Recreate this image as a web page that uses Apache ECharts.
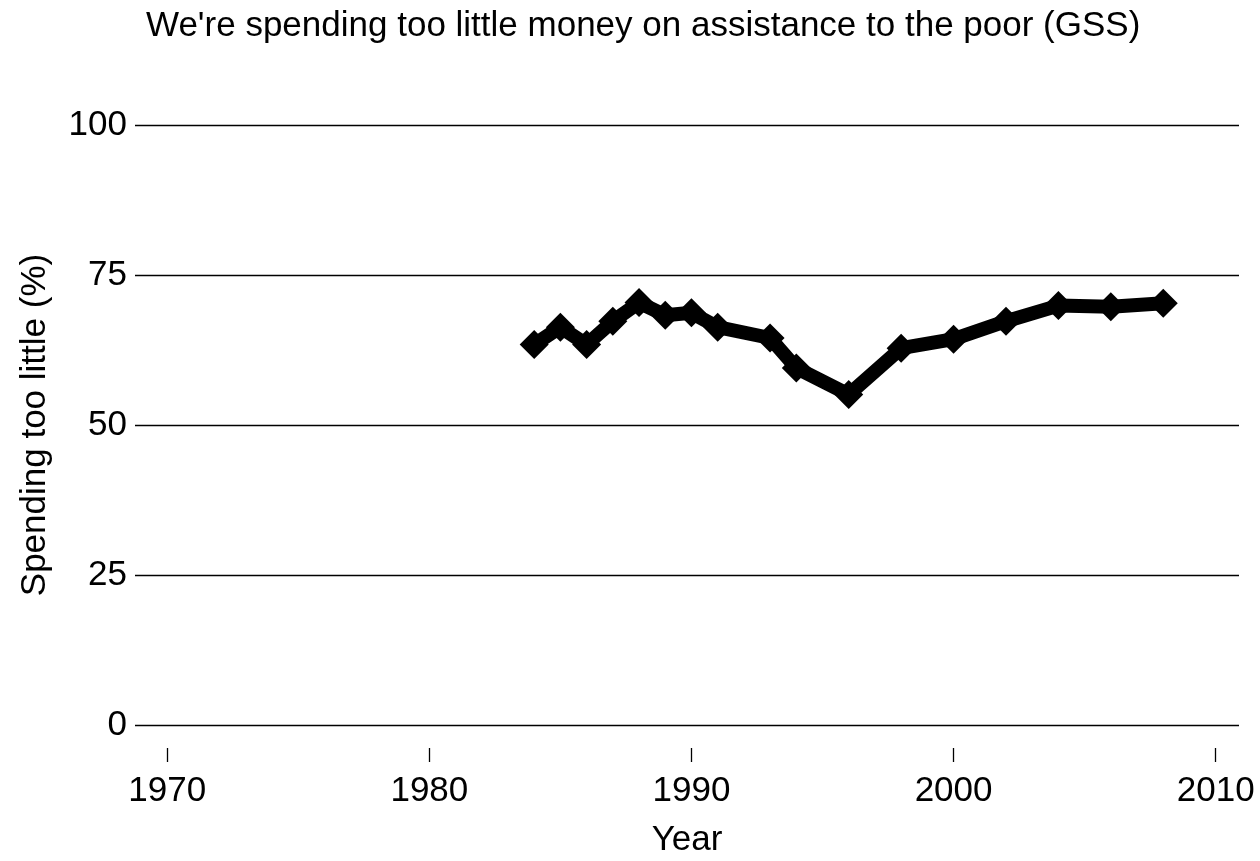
<!DOCTYPE html>
<html>
<head>
<meta charset="utf-8">
<script src="https://cdn.jsdelivr.net/npm/echarts@6/dist/echarts.min.js"></script>
<style>
html,body{margin:0;padding:0;background:#fff;}
#chart{width:1260px;height:861px;}
</style>
</head>
<body>
<div id="chart"></div>
<script>
var years = [1984, 1985, 1986, 1987, 1988, 1989, 1990, 1991, 1993, 1994, 1996, 1998, 2000, 2002, 2004, 2006, 2008];
var tooLittle = [63.4, 66.3, 63.4, 67.3, 70.4, 68.3, 68.7, 66.3, 64.5, 59.5, 55.1, 62.8, 64.3, 67.3, 69.9, 69.7, 70.3];
var xTicks = [1970, 1980, 1990, 2000, 2010];
var yTicks = [0, 25, 50, 75, 100];

var FONT = '"Liberation Sans", Arial, sans-serif';
var chart = echarts.init(document.getElementById('chart'));
var seriesData = years.map(function (y, i) { return [y, tooLittle[i]]; });
var X_MIN = 1968.77, X_MAX = 2010.89;

chart.setOption({
  animation: false,
  backgroundColor: '#fff',
  title: {
    text: "We're spending too little money on assistance to the poor (GSS)",
    left: 141,
    top: 4,
    textStyle: { fontFamily: FONT, fontSize: 35, fontWeight: 'normal', color: '#000' }
  },
  grid: [
    { left: 135, right: 21, top: 125, height: 600 },
    { left: 135, right: 21, top: 747, height: 1 }
  ],
  xAxis: [{
    type: 'value',
    gridIndex: 0,
    min: X_MIN,
    max: X_MAX,
    axisLine: { show: false },
    axisTick: { show: false },
    axisLabel: { show: false },
    splitLine: { show: false }
  }, {
    type: 'value',
    gridIndex: 1,
    min: X_MIN,
    max: X_MAX,
    name: 'Year',
    nameLocation: 'middle',
    nameGap: 75,
    nameTextStyle: { fontFamily: FONT, fontSize: 35, color: '#000' },
    axisLine: { show: false },
    axisTick: { show: true, inside: false, length: 14, customValues: xTicks, lineStyle: { color: '#000', width: 1.3 } },
    axisLabel: {
      customValues: xTicks, margin: 26, fontFamily: FONT, fontSize: 35, color: '#000',
      formatter: function (v) { return String(v); }
    },
    splitLine: { show: false }
  }],
  yAxis: [{
    type: 'value',
    gridIndex: 0,
    min: 0,
    max: 100,
    interval: 25,
    name: 'Spending too little (%)',
    nameLocation: 'middle',
    nameGap: 82,
    nameTextStyle: { fontFamily: FONT, fontSize: 35, color: '#000' },
    axisLine: { show: false },
    axisTick: { show: false },
    axisLabel: {
      margin: 8, fontFamily: FONT, fontSize: 35, color: '#000',
      formatter: function (v) { return yTicks.indexOf(v) >= 0 ? String(v) : ''; }
    },
    splitLine: { show: true, lineStyle: { color: '#000', width: 1.3 } }
  }, {
    type: 'value',
    gridIndex: 1,
    show: false
  }],
  series: [{
    type: 'line',
    xAxisIndex: 0,
    yAxisIndex: 0,
    data: seriesData,
    symbol: 'diamond',
    symbolSize: [29, 29],
    showAllSymbol: true,
    lineStyle: { color: '#000', width: 14, join: 'round' },
    itemStyle: { color: '#000' },
    clip: false
  }]
});
</script>
</body>
</html>
